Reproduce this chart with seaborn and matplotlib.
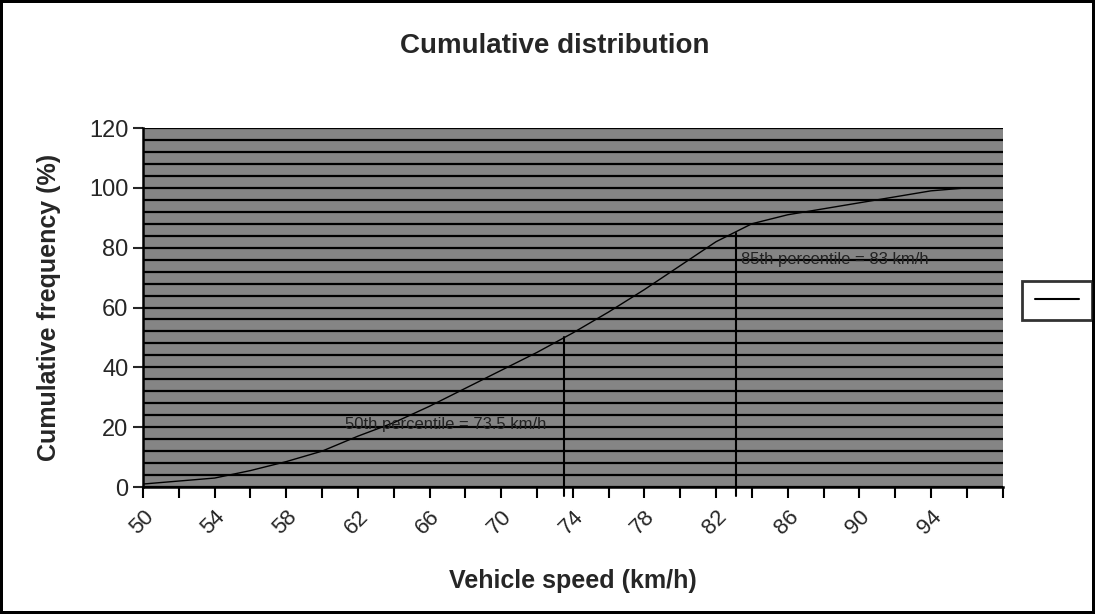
import matplotlib
matplotlib.use("Agg")
import matplotlib.pyplot as plt
import seaborn as sns
import numpy as np
import pandas as pd
from matplotlib.ticker import MultipleLocator, FixedLocator
from matplotlib.lines import Line2D

# ---- data ----
speeds = [50, 52, 54, 56, 58, 60, 62, 64, 66, 68, 70, 72,
          74, 76, 78, 80, 82, 84, 86, 88, 90, 92, 94, 96, 98]
cum_freq = [1, 2, 3, 5.5, 8.5, 12, 17, 21.5, 27, 33, 39, 45,
            51.5, 58.5, 66, 74, 82, 88, 91, 93, 95, 97, 99, 100, 100]
tick_labels = [50, 54, 58, 62, 66, 70, 74, 78, 82, 86, 90, 94]
p50_speed, p50_value = 73.5, 50
p85_speed, p85_value = 83.1, 85
p50_text = "50th percentile = 73.5 km/h"
p85_text = "85th percentile = 83 km/h"

sns.set_style("white")
plt.rcParams['font.family'] = ['Liberation Sans', 'DejaVu Sans']

fig = plt.figure(figsize=(10.95, 6.14), dpi=100)
fig.patch.set_facecolor("white")
fig.patch.set_edgecolor("black")
fig.patch.set_linewidth(3)
ax = fig.add_axes([0.1306, 0.2068, 0.785, 0.5847])

df = pd.DataFrame({"speed": speeds, "cum": cum_freq})
sns.lineplot(data=df, x="speed", y="cum", ax=ax, color="black", lw=1.0)

ax.set_facecolor("#858585")
ax.set_xlim(50, 98)
ax.set_ylim(0, 120)

# percentile drop lines
ax.plot([p50_speed, p50_speed], [-3, p50_value], color="black", lw=1.5, clip_on=False)
ax.plot([p85_speed, p85_speed], [-3, p85_value], color="black", lw=1.5, clip_on=False)
ax.text(p50_speed - 1.0, 21, p50_text, ha="right", va="center", fontsize=12, color="#222222")
ax.text(p85_speed + 0.3, 76, p85_text, ha="left", va="center", fontsize=12, color="#222222")

# stripes (horizontal minor grid)
ax.yaxis.set_major_locator(MultipleLocator(20))
ax.yaxis.set_minor_locator(MultipleLocator(4))
ax.grid(which="minor", axis="y", color="black", lw=1.6)
ax.grid(which="major", axis="y", color="black", lw=1.6)
ax.set_axisbelow(True)

# x ticks every category, labels every second category
ax.xaxis.set_major_locator(FixedLocator(tick_labels))
ax.set_xticklabels([str(t) for t in tick_labels], rotation=45, ha="right",
                   rotation_mode="anchor", fontsize=16)
ax.xaxis.set_minor_locator(FixedLocator(speeds))
ax.tick_params(axis="x", which="both", length=8, width=1.5, direction="out",
               color="black", bottom=True, pad=6)
ax.tick_params(axis="y", which="major", length=7, width=1.5, direction="out", labelsize=17, left=True)
ax.tick_params(axis="y", which="minor", length=0)

for s in ["left", "bottom"]:
    ax.spines[s].set_color("black")
    ax.spines[s].set_linewidth(1.8)
for s in ["top", "right"]:
    ax.spines[s].set_visible(False)

ax.set_xlabel("Vehicle speed (km/h)", fontsize=18, fontweight="bold", labelpad=22)
ax.set_ylabel("Cumulative frequency (%)", fontsize=18, fontweight="bold", labelpad=20)
fig.text(0.507, 0.925, "Cumulative distribution", ha="center", va="center",
         fontsize=20, fontweight="bold")

leg = ax.legend(handles=[Line2D([0], [0], color="black", lw=1.5)], labels=[""],
                loc="center left", bbox_to_anchor=(1.015, 0.52), frameon=True,
                handlelength=3.2, handletextpad=0, borderpad=0.9, fancybox=False)
leg.get_frame().set_edgecolor("black")
leg.get_frame().set_linewidth(2)

fig.savefig("out.png", dpi=100)
